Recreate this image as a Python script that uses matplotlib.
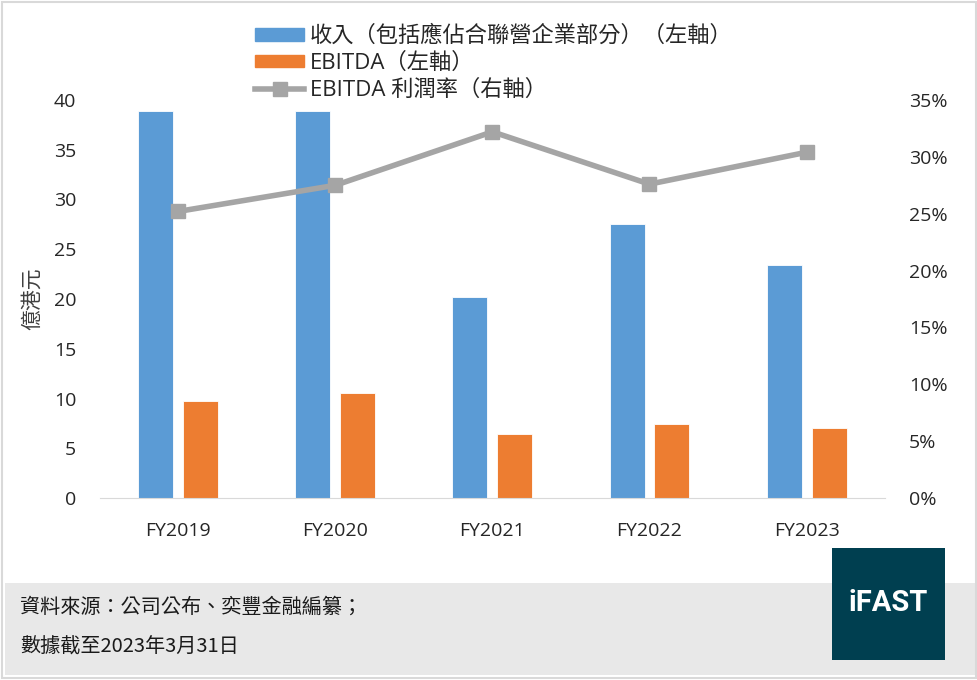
import matplotlib
matplotlib.use("Agg")
import matplotlib.pyplot as plt
import numpy as np
from matplotlib.patches import Rectangle
from matplotlib.lines import Line2D
from matplotlib.ticker import FuncFormatter

plt.rcParams['font.family'] = ['Open Sans', 'Noto Sans CJK TC', 'DejaVu Sans']

categories = ["FY2019", "FY2020", "FY2021", "FY2022", "FY2023"]
revenue = [38.9, 38.9, 20.2, 27.5, 23.4]
ebitda = [9.75, 10.55, 6.45, 7.45, 7.05]
margin = [25.2, 27.5, 32.2, 27.6, 30.4]

legend_labels = ["收入（包括應佔合聯營企業部分）（左軸）", "EBITDA（左軸）", "EBITDA 利潤率（右軸）"]
ylabel = "億港元"
footer1 = "資料來源：公司公布、奕豐金融編纂；"
footer2 = "數據截至2023年3月31日"

blue = "#5b9bd5"
orange = "#ed7d31"
gray = "#a5a5a5"

fig = plt.figure(figsize=(9.78, 6.8), dpi=100)

# footer band and frame
fig.patches.append(Rectangle((5/978, 5/680), 970/978, 92/680, transform=fig.transFigure,
                             facecolor='#e8e8e8', edgecolor='none', zorder=0))
fig.patches.append(Rectangle((2/978, 2/680), 974/978, 676/680, transform=fig.transFigure,
                             facecolor='none', edgecolor='#d9d9d9', linewidth=1.5, zorder=1))

ax = fig.add_axes([0.102, 0.2676, 0.803, 0.5854])
x = np.arange(len(categories))
w = 0.223
ax.bar(x - 0.143, revenue, w, color=blue, edgecolor='white', linewidth=0.6, zorder=2)
ax.bar(x + 0.143, ebitda, w, color=orange, edgecolor='white', linewidth=0.6, zorder=2)
ax.set_xlim(-0.5, len(categories) - 0.5)
ax.set_ylim(0, 40)
ax.set_yticks(range(0, 41, 5))
ax.set_xticks(x)
ax.set_xticklabels(categories)
for s in ['top', 'right', 'left']:
    ax.spines[s].set_visible(False)
ax.spines['bottom'].set_color('#d9d9d9')
ax.tick_params(axis='both', length=0, labelsize=14, colors='#262626')
ax.tick_params(axis='x', pad=17)
ax.tick_params(axis='y', pad=17)
ax.set_ylabel(ylabel, fontsize=15, color='#404040', family=['Noto Sans CJK TC'], labelpad=8)

ax2 = ax.twinx()
ax2.plot(x, margin, color=gray, linewidth=4, marker='s', markersize=10, zorder=3)
ax2.set_ylim(0, 35)
ax2.set_yticks(range(0, 36, 5))
ax2.yaxis.set_major_formatter(FuncFormatter(lambda v, p: f"{int(v)}%"))
for s in ['top', 'right', 'left', 'bottom']:
    ax2.spines[s].set_visible(False)
ax2.tick_params(axis='y', length=0, labelsize=14, colors='#262626', pad=17)

handles = [Rectangle((0, 0), 1, 1, color=blue), Rectangle((0, 0), 1, 1, color=orange),
           Line2D([], [], color=gray, linewidth=4, marker='s', markersize=10)]
leg = fig.legend(handles, legend_labels, loc='upper left', bbox_to_anchor=(0.252, 0.975),
                 frameon=False, handlelength=2.2, handleheight=0.5,
                 labelspacing=0.25, handletextpad=0.25, borderaxespad=0,
                 prop={'family': ['Open Sans', 'Noto Sans CJK TC'], 'size': 16})
for t in leg.get_texts():
    t.set_color('#262626')

fig.text(20/978, 1 - 607/680, footer1, fontsize=14.5, va='center', ha='left',
         family=['Noto Sans CJK TC'], color='#1a1a1a')
fig.text(20/978, 1 - 647/680, footer2, fontsize=14.5, va='center', ha='left',
         family=['Noto Sans CJK TC'], color='#1a1a1a')
fig.patches.append(Rectangle((832/978, 1 - 660/680), 113/978, 112/680, transform=fig.transFigure,
                             facecolor='#003f50', edgecolor='none', zorder=2))
fig.text(888/978, 1 - 603/680, "iFAST", fontsize=21, fontweight='bold', color='white',
         ha='center', va='center', family=['Roboto'], zorder=3)

fig.savefig("out.png", dpi=100)
